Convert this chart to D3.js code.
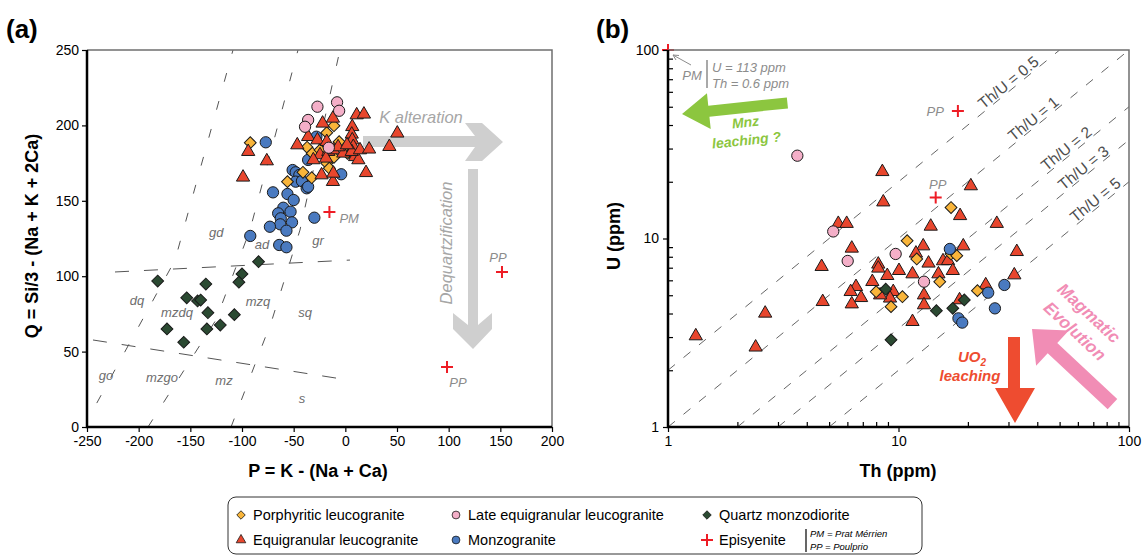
<!DOCTYPE html>
<html>
<head>
<meta charset="utf-8">
<title>P-Q and Th-U diagrams</title>
<script src="https://cdn.jsdelivr.net/npm/d3@7"></script>
<style>
body { margin:0; background:#fff; }
svg text { font-family: "Liberation Sans", Arial, Helvetica, sans-serif; }
.tick text { font-size:14px; fill:#000; }
.tick line { stroke:#000; stroke-width:1.2; }
.region { font-style:italic; font-size:13px; fill:#6e6e6e; }
.note { font-style:italic; font-size:13px; fill:#8c8c8c; }
.axlab { font-weight:bold; font-size:18px; }
.panel { font-weight:bold; font-size:26px; }
.leg { font-size:14.5px; }
</style>
</head>
<body>
<svg id="chart" width="1146" height="556"></svg>
<script>
// ---- data, panel (a): [P, Q]
var porphA = [[-92,188.5],[-11,199.8],[-18,195.2],[-6,189.2],[-37,185.5],[-32,181.5],[-24.5,183.7],[-11,178.8],[-18,174.9],[-15.5,171.6],[2,181.5],[-41,168.9],[-32.5,165.3],[-56,162.7]];
var lateA = [[-27,212.4],[-8,215.3],[-6,209.7],[-36,203.6],[-39,199.1],[-16,185.2]];
var equiA = [[-94,182.6],[-76,176.4],[-99,165.6],[-22,201.4],[-12,204.7],[-46.5,187],[-36,192.5],[-27,190.3],[-18,189.2],[-24.5,180.4],[-16.5,182.6],[-11.6,183.7],[-2,181.5],[9.4,179.2],[12.6,177.1],[-23,167.1],[-12,162.7],[-11.6,168.2],[-18.7,178.2],[11,206.9],[18,207.4],[6.7,199.1],[6.2,194.1],[6.7,190.3],[7.7,185.9],[6.2,182.6],[14.2,183.7],[23,184.2],[42.6,185.9],[50.3,194.8],[20,168.6],[-7,185.7],[1.6,187],[-31,177.1]];
var monzoA = [[-77,188.8],[-28,192.5],[-36,177.1],[-4,167.6],[-51,170.4],[-48,168.9],[-44.5,167.1],[-48,162.7],[-42,163.1],[-37.4,158.3],[-36,159.3],[-70,155.6],[-56,154.5],[-50,150.5],[-60,145.4],[-53,142.8],[-65,141.7],[-62.5,138.4],[-63,134.4],[-51.6,135.7],[-73,132.8],[-57,130.2],[-92,126.7],[-64,120.7],[-57,119.2],[-30,138.8]];
var qmdA = [[-84,109.6],[-100,101.5],[-103,96],[-181.6,96.8],[-135,94.8],[-153.5,85.7],[-143,83.6],[-140,84.2],[-133,75.8],[-107.4,74.5],[-121,67.6],[-134,65],[-172.6,65],[-156.4,56.2]];
var episA = [[-15.4,142.6],[151.6,102.8],[98.4,39.8]];
var episALabels = ["PM","PP","PP"];

// ---- data, panel (b): [Th, U] in ppm
var porphB = [[16.9,14.6],[10.9,9.73],[12.0,7.79],[16.9,8.28],[17.9,8.11],[15.1,5.9],[8.0,5.22],[10.4,4.91],[9.28,4.35],[22.0,5.29]];
var lateB = [[3.64,27.5],[5.21,10.9],[6.02,7.6],[9.72,8.28],[12.9,5.9]];
var equiB = [[8.51,22.6],[8.59,15.6],[5.48,12.0],[5.96,12.0],[6.27,8.87],[4.64,7.09],[8.17,7.3],[8.17,6.95],[8.94,6.35],[10.05,6.75],[11.5,6.48],[12.8,9.12],[11.9,8.35],[13.5,7.39],[13.8,11.6],[14.9,6.48],[15.6,7.6],[16.4,7.62],[17.2,6.75],[19.1,9.12],[18.5,13.2],[20.6,19.0],[26.7,12.0],[32.6,8.51],[31.8,6.4],[23.9,5.67],[18.4,4.72],[12.9,5.01],[12.9,4.44],[11.5,3.62],[9.49,5.22],[9.19,4.82],[8.32,5.01],[7.7,5.9],[6.54,5.55],[6.2,5.22],[6.88,4.85],[6.27,4.49],[4.69,4.62],[1.32,3.04],[2.4,2.65],[2.64,4.01]];
var monzoB = [[16.7,8.8],[24.5,5.16],[28.8,5.67],[26.2,4.26],[18.2,3.77],[18.9,3.58]];
var qmdB = [[8.8,5.38],[19.3,4.72],[17.2,4.26],[14.6,4.14],[9.28,2.9]];
// PM is off-scale (Th = 0.6, U = 113), pinned to the top-left corner
var episB = [[1,100],[18.1,47.5],[14.5,16.5]];

// classification boundaries of the P-Q diagram, in P-Q units
var pqBoundaries = [
  [[-222.9,102.8],[4.5,110.7]],
  [[-244.2,57.7],[2.6,31.2]],
  [[-254,-1],[-164.8,110.7],[-108.7,250]],
  [[-191,0],[-125.2,71],[-92.3,130.6],[-45.8,250]],
  [[-110.6,0],[-71,71],[-43.9,130.6],[-5.2,250]]
];
var pqFields = ["gd","ad","gr","dq","mzdq","mzq","sq","go","mzgo","mz","s"];
var pqFieldAnchors = [[-125,129],[-80.6,121],[-26.4,124],[-201.6,84],[-162.9,76],[-84.5,83],[-39,76],[-231.6,34],[-177.4,33],[-117.4,31],[-41.9,19]];

var thuRatios = [0.5,1,2,3,5];
var thuLabelTh = [31.4,40.3,56,66.4,74.8];

var ticksA_x = [-250,-200,-150,-100,-50,0,50,100,150,200];
var ticksA_y = [0,50,100,150,200,250];
var ticksB = [1,10,100];

var legendNames = ["Porphyritic leucogranite","Late equigranular leucogranite","Quartz monzodiorite","Equigranular leucogranite","Monzogranite","Episyenite"];

var colors = {porph:"#f9b53a", late:"#f4afc8", equi:"#e8462d", monzo:"#4a7ac0", qmd:"#2b4a32", epis:"#ee1c25"};

var svg = d3.select("#chart");

var xA = d3.scaleLinear().domain([-250,200]).range([87,552]);
var yA = d3.scaleLinear().domain([0,250]).range([427,50]);
var xB = d3.scaleLog().domain([1,100]).range([668,1129]);
var yB = d3.scaleLog().domain([1,100]).range([427,50]);

var plain = function(d){ return String(d); };

var defs = svg.append("defs");
defs.append("clipPath").attr("id","clipA").append("rect")
  .attr("x",87).attr("y",50).attr("width",465).attr("height",377);
defs.append("clipPath").attr("id","clipB").append("rect")
  .attr("x",668).attr("y",50).attr("width",461).attr("height",377);

var symbols = {
  diamond: d3.symbol().type(d3.symbolSquare).size(70),
  circle: d3.symbol().type(d3.symbolCircle).size(100),
  triangle: d3.symbol().type(d3.symbolTriangle).size(76)
};

function drawSet(g, data, sx, sy, shape, fill) {
  g.selectAll(null).data(data).enter().append("path")
    .attr("d", symbols[shape]())
    .attr("transform", function(d) {
      return "translate(" + sx(d[0]) + "," + sy(d[1]) + ")" + (shape == "diamond" ? " rotate(45)" : "");
    })
    .attr("fill", fill)
    .attr("stroke", "#1a1a1a")
    .attr("stroke-width", 1);
}

function drawCross(g, data, sx, sy) {
  g.selectAll(null).data(data).enter().append("path")
    .attr("d", "M-6,0H6M0,-6V6")
    .attr("transform", function(d) { return "translate(" + sx(d[0]) + "," + sy(d[1]) + ")"; })
    .attr("stroke", colors.epis).attr("stroke-width", 2).attr("fill", "none");
}

function frame(x0, x1, y0, y1) {
  svg.append("path").attr("d", "M" + x0 + "," + y0 + "H" + x1 + "V" + y1)
    .attr("fill","none").attr("stroke","#6f6f6f").attr("stroke-width",1.5);
  svg.append("path").attr("d", "M" + x0 + "," + y0 + "V" + y1 + "H" + x1)
    .attr("fill","none").attr("stroke","#000").attr("stroke-width",2.5);
}

// ================= panel (a)
var gA = svg.append("g");
var line = d3.line().x(function(d){return xA(d[0]);}).y(function(d){return yA(d[1]);});
gA.append("g").attr("clip-path","url(#clipA)")
  .selectAll("path").data(pqBoundaries).enter().append("path")
  .attr("d", line)
  .attr("fill","none").attr("stroke","#555").attr("stroke-width",1)
  .attr("stroke-dasharray", function(d,i){ return i < 2 ? "14,15" : "9,20"; });

gA.selectAll(".region").data(pqFields).enter().append("text")
  .attr("class","region")
  .attr("x", function(d,i){ return xA(pqFieldAnchors[i][0]); })
  .attr("y", function(d,i){ return yA(pqFieldAnchors[i][1]); })
  .attr("dy","0.35em").attr("text-anchor","middle")
  .text(function(d){ return d; });

// grey process arrows
gA.append("polygon")
  .attr("points","363,136 475,136 465,123 482,123 503,142 482,161 465,161 475,147 363,147")
  .attr("fill","#cfcfcf");
gA.append("text").attr("x",421).attr("y",123).attr("text-anchor","middle")
  .attr("font-size",16.5).attr("font-style","italic").attr("fill","#a6a6a6").text("K alteration");
gA.append("polygon")
  .attr("points","468,169 478,169 478,325 492,313 492,329 473,349 453,329 453,313 468,325")
  .attr("fill","#cfcfcf");
gA.append("text").attr("transform","translate(452,243) rotate(-90)").attr("text-anchor","middle")
  .attr("font-size",16.5).attr("font-style","italic").attr("fill","#a6a6a6").text("Dequartzification");

drawSet(gA, monzoA, xA, yA, "circle", colors.monzo);
drawSet(gA, porphA, xA, yA, "diamond", colors.porph);
drawSet(gA, equiA, xA, yA, "triangle", colors.equi);
drawSet(gA, lateA, xA, yA, "circle", colors.late);
drawSet(gA, qmdA, xA, yA, "diamond", colors.qmd);
drawCross(gA, episA, xA, yA);

var episALabelPos = [[10,11,"start"],[-4,-10,"middle"],[11,20,"middle"]];
gA.selectAll(".epl").data(episA).enter().append("text")
  .attr("class","note")
  .attr("x", function(d,i){ return xA(d[0]) + episALabelPos[i][0]; })
  .attr("y", function(d,i){ return yA(d[1]) + episALabelPos[i][1]; })
  .attr("text-anchor", function(d,i){ return episALabelPos[i][2]; })
  .text(function(d,i){ return episALabels[i]; });

frame(87, 552, 50, 427);
svg.append("g").attr("transform","translate(0,427)")
  .call(d3.axisBottom(xA).tickValues(ticksA_x).tickFormat(plain).tickSize(5).tickSizeOuter(0).tickPadding(4))
  .call(function(g){ g.select(".domain").remove(); });
svg.append("g").attr("transform","translate(87,0)")
  .call(d3.axisLeft(yA).tickValues(ticksA_y).tickFormat(plain).tickSize(5).tickSizeOuter(0).tickPadding(3))
  .call(function(g){ g.select(".domain").remove(); });

svg.append("text").attr("class","axlab").attr("x",318).attr("y",477).attr("text-anchor","middle")
  .text("P = K - (Na + Ca)");
svg.append("text").attr("class","axlab").attr("transform","translate(38,236) rotate(-90)")
  .attr("text-anchor","middle").text("Q = Si/3 - (Na + K + 2Ca)");
svg.append("text").attr("class","panel").attr("x",6).attr("y",38).text("(a)");

// ================= panel (b)
var gB = svg.append("g");
var ang = Math.atan2(yB(10) - yB(1), xB(10) - xB(1)) * 180 / Math.PI;
gB.append("g").attr("clip-path","url(#clipB)")
  .selectAll("line").data(thuRatios).enter().append("line")
  .attr("x1", function(r){ return xB(Math.max(1, r)); })
  .attr("y1", function(r){ return yB(Math.max(1, r) / r); })
  .attr("x2", function(r){ return xB(Math.min(100, 100 * r)); })
  .attr("y2", function(r){ return yB(Math.min(100, 100 * r) / r); })
  .attr("stroke","#666").attr("stroke-width",1).attr("stroke-dasharray","9,11");
gB.selectAll(".thu").data(thuRatios).enter().append("text")
  .attr("transform", function(r,i){ var t = thuLabelTh[i]; return "translate(" + xB(t) + "," + yB(t / r) + ") rotate(" + ang + ")"; })
  .attr("text-anchor","middle").attr("dy",-2)
  .attr("font-size",15.5).attr("fill","#4d4d4d")
  .text(function(r){ return "Th/U = " + r; });

// Mnz leaching arrow
gB.append("polygon").attr("transform","translate(682,114) rotate(-6)")
  .attr("points","0,0 27,-18 27,-5.5 106,-5.5 106,5.5 27,5.5 27,18")
  .attr("fill","#8cc63f");
gB.append("text").attr("transform","translate(746,127) rotate(-6)").attr("text-anchor","middle")
  .attr("font-size",14).attr("font-weight","bold").attr("font-style","italic").attr("fill","#8cc63f").text("Mnz");
gB.append("text").attr("transform","translate(747,145) rotate(-6)").attr("text-anchor","middle")
  .attr("font-size",14).attr("font-weight","bold").attr("font-style","italic").attr("fill","#8cc63f").text("leaching ?");

// UO2 leaching arrow
gB.append("polygon")
  .attr("points","1008,337 1020,337 1020,388 1035,388 1015,423 995,388 1008,388")
  .attr("fill","#ee4c30");
var uo = gB.append("text").attr("x",972).attr("y",362).attr("text-anchor","middle")
  .attr("font-size",15).attr("font-weight","bold").attr("font-style","italic").attr("fill","#ee4c30");
uo.append("tspan").text("UO");
uo.append("tspan").attr("font-size",10).attr("dy",4).text("2");
gB.append("text").attr("x",970).attr("y",381).attr("text-anchor","middle")
  .attr("font-size",15).attr("font-weight","bold").attr("font-style","italic").attr("fill","#ee4c30").text("leaching");

// Magmatic evolution arrow
gB.append("polygon").attr("transform","translate(1032,329) rotate(43)")
  .attr("points","0,0 28,-24 28,-7 110,-7 110,7 28,7 28,24")
  .attr("fill","#f18db5");
gB.append("text").attr("transform","translate(1089,313) rotate(43)").attr("text-anchor","middle").attr("dy","0.35em")
  .attr("font-size",17).attr("font-weight","bold").attr("font-style","italic").attr("fill","#f18db5").text("Magmatic");
gB.append("text").attr("transform","translate(1075,331) rotate(43)").attr("text-anchor","middle").attr("dy","0.35em")
  .attr("font-size",17).attr("font-weight","bold").attr("font-style","italic").attr("fill","#f18db5").text("Evolution");

drawSet(gB, equiB, xB, yB, "triangle", colors.equi);
drawSet(gB, lateB, xB, yB, "circle", colors.late);
drawSet(gB, porphB, xB, yB, "diamond", colors.porph);
drawSet(gB, monzoB, xB, yB, "circle", colors.monzo);
drawSet(gB, qmdB, xB, yB, "diamond", colors.qmd);

// PM note
gB.append("line").attr("x1",691).attr("y1",65).attr("x2",673).attr("y2",55)
  .attr("stroke","#8c8c8c").attr("stroke-width",1);
gB.append("path").attr("d","M673,55 l6,0.5 M673,55 l3,5").attr("stroke","#8c8c8c").attr("fill","none");
gB.append("text").attr("class","note").attr("x",692).attr("y",80).attr("text-anchor","middle").attr("font-size",12).text("PM");
gB.append("line").attr("x1",707).attr("y1",60).attr("x2",707).attr("y2",88).attr("stroke","#8c8c8c").attr("stroke-width",1.5);
gB.append("text").attr("class","note").attr("x",712).attr("y",72).attr("font-size",12).text("U = 113 ppm");
gB.append("text").attr("class","note").attr("x",712).attr("y",88).attr("font-size",12).text("Th = 0.6 ppm");
gB.append("text").attr("class","note").attr("x",xB(episB[1][0]) - 14).attr("y",yB(episB[1][1]) + 5).attr("text-anchor","end").text("PP");
gB.append("text").attr("class","note").attr("x",xB(episB[2][0]) + 2).attr("y",yB(episB[2][1]) - 9).attr("text-anchor","middle").text("PP");

frame(668, 1129, 50, 427);
drawCross(gB, episB, xB, yB);

var minorB = [];
[1,10].forEach(function(dec){ for (var k = 2; k <= 9; k++) minorB.push(dec * k); });
svg.append("g").attr("transform","translate(0,427)")
  .call(d3.axisBottom(xB).tickValues(ticksB).tickFormat(plain).tickSize(5).tickSizeOuter(0).tickPadding(4))
  .call(function(g){ g.select(".domain").remove(); });
svg.append("g").attr("transform","translate(0,427)")
  .call(d3.axisTop(xB).tickValues(minorB).tickFormat("").tickSize(5).tickSizeOuter(0))
  .call(function(g){ g.select(".domain").remove(); });
svg.append("g").attr("transform","translate(668,0)")
  .call(d3.axisLeft(yB).tickValues(ticksB).tickFormat(plain).tickSize(5).tickSizeOuter(0).tickPadding(4))
  .call(function(g){ g.select(".domain").remove(); });
svg.append("g").attr("transform","translate(668,0)")
  .call(d3.axisRight(yB).tickValues(minorB).tickFormat("").tickSize(5).tickSizeOuter(0))
  .call(function(g){ g.select(".domain").remove(); });

svg.append("text").attr("class","axlab").attr("x",898).attr("y",477).attr("text-anchor","middle").text("Th (ppm)");
svg.append("text").attr("class","axlab").attr("transform","translate(620,236) rotate(-90)")
  .attr("text-anchor","middle").text("U (ppm)");
svg.append("text").attr("class","panel").attr("x",596).attr("y",38).text("(b)");

// ================= legend
var lg = svg.append("g");
lg.append("rect").attr("x",228).attr("y",497).attr("width",694).attr("height",57).attr("rx",8)
  .attr("fill","#fff").attr("stroke","#333").attr("stroke-width",1);
var legShapes = ["diamond","circle","diamond","triangle","circle","cross"];
var legColors = [colors.porph, colors.late, colors.qmd, colors.equi, colors.monzo, colors.epis];
var legCols = [241, 456, 707];
var legSym = {
  diamond: d3.symbol().type(d3.symbolSquare).size(36),
  circle: d3.symbol().type(d3.symbolCircle).size(48),
  triangle: d3.symbol().type(d3.symbolTriangle).size(40)
};
legendNames.forEach(function(name, i) {
  var cx = legCols[i % 3], cy = i < 3 ? 515 : 540;
  var s = legShapes[i];
  if (s == "cross") {
    lg.append("path").attr("d","M-6,0H6M0,-6V6").attr("transform","translate(" + cx + "," + cy + ")")
      .attr("stroke",legColors[i]).attr("stroke-width",2);
  } else {
    lg.append("path").attr("d", legSym[s]())
      .attr("transform","translate(" + cx + "," + cy + ")" + (s == "diamond" ? " rotate(45)" : ""))
      .attr("fill",legColors[i]).attr("stroke","#1a1a1a").attr("stroke-width",0.8);
  }
  lg.append("text").attr("class","leg").attr("x",cx + 12).attr("y",cy + 5).text(name);
});
lg.append("line").attr("x1",806).attr("y1",529).attr("x2",806).attr("y2",552).attr("stroke","#000").attr("stroke-width",1.2);
lg.append("text").attr("x",810).attr("y",537).attr("font-size",9.5).attr("font-style","italic").text("PM = Prat Mérrien");
lg.append("text").attr("x",810).attr("y",550).attr("font-size",9.5).attr("font-style","italic").text("PP = Poulprio");
</script>
</body>
</html>
